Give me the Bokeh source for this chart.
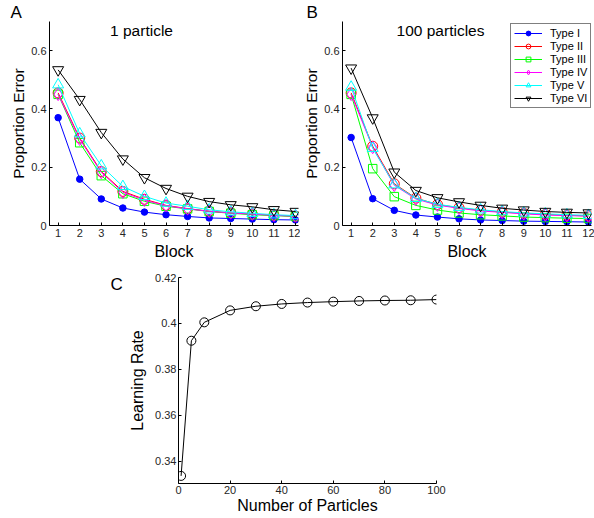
from bokeh.plotting import figure
from bokeh.layouts import column, row
from bokeh.models import (FixedTicker, Label, Legend, LegendItem, Range1d, Title)
from bokeh.embed import file_html
from bokeh.resources import INLINE

FONT = "Liberation Sans"

blocks = list(range(1, 13))
type_names = ["Type I", "Type II", "Type III", "Type IV", "Type V", "Type VI"]

# Panel A: 1 particle
a_type1 = [0.370, 0.159, 0.091, 0.060, 0.046, 0.037, 0.031, 0.026, 0.024, 0.022, 0.020, 0.019]
a_type2 = [0.455, 0.300, 0.185, 0.117, 0.090, 0.069, 0.058, 0.049, 0.043, 0.039, 0.035, 0.032]
a_type3 = [0.450, 0.284, 0.171, 0.109, 0.083, 0.066, 0.057, 0.048, 0.042, 0.037, 0.034, 0.031]
a_type4 = [0.450, 0.296, 0.182, 0.114, 0.087, 0.068, 0.057, 0.049, 0.043, 0.039, 0.035, 0.032]
a_type5 = [0.483, 0.315, 0.205, 0.134, 0.100, 0.077, 0.066, 0.054, 0.047, 0.042, 0.037, 0.034]
a_type6 = [0.534, 0.432, 0.319, 0.228, 0.164, 0.127, 0.100, 0.082, 0.071, 0.064, 0.054, 0.048]

# Panel B: 100 particles
b_type1 = [0.302, 0.092, 0.052, 0.036, 0.029, 0.023, 0.019, 0.017, 0.015, 0.014, 0.013, 0.012]
b_type2 = [0.455, 0.272, 0.143, 0.094, 0.072, 0.061, 0.052, 0.046, 0.042, 0.038, 0.035, 0.033]
b_type3 = [0.450, 0.195, 0.099, 0.069, 0.053, 0.043, 0.037, 0.033, 0.029, 0.027, 0.025, 0.024]
b_type4 = [0.450, 0.268, 0.138, 0.091, 0.070, 0.059, 0.050, 0.045, 0.040, 0.036, 0.034, 0.032]
b_type5 = [0.475, 0.265, 0.140, 0.093, 0.073, 0.062, 0.054, 0.048, 0.043, 0.040, 0.037, 0.035]
b_type6 = [0.540, 0.369, 0.183, 0.120, 0.095, 0.081, 0.069, 0.059, 0.053, 0.048, 0.045, 0.043]

# Panel C: learning rate vs number of particles
n_particles = [1, 5, 10, 20, 30, 40, 50, 60, 70, 80, 90, 100]
learning_rate = [0.3337, 0.3925, 0.4005, 0.4057, 0.4075, 0.4085, 0.4091, 0.4095, 0.4098, 0.4100, 0.4101, 0.4104]

y_ticks_ab = [0, 0.2, 0.4, 0.6]
y_labels_ab = {0: "0", 0.2: "0.2", 0.4: "0.4", 0.6: "0.6"}
y_ticks_c = [0.34, 0.36, 0.38, 0.40, 0.42]
y_labels_c = {0.34: "0.34", 0.36: "0.36", 0.38: "0.38", 0.4: "0.4", 0.42: "0.42"}
x_ticks_c = [0, 20, 40, 60, 80, 100]

styles = [
    dict(marker="circle", color="#0000ff", size=6.5, fill=True),
    dict(marker="circle", color="#ff0000", size=10, fill=False),
    dict(marker="square", color="#00ff00", size=8.5, fill=False),
    dict(marker="diamond", color="#ff00ff", size=12.5, fill=False),
    dict(marker="triangle", color="#00ffff", size=11, fill=False),
    dict(marker="inverted_triangle", color="#000000", size=11, fill=False),
]

TICK_COLOR = "#262626"


def style_axes(p, label_standoff=3, tick_standoff=3):
    for ax in (p.xaxis[0], p.yaxis[0]):
        ax.axis_line_color = "black"
        ax.axis_line_width = 1
        ax.major_tick_in = 3
        ax.major_tick_out = 0
        ax.minor_tick_line_color = None
        ax.major_tick_line_color = "black"
        ax.major_label_text_font = FONT
        ax.major_label_text_font_size = "11px"
        ax.major_label_text_color = TICK_COLOR
        ax.axis_label_text_font = FONT
        ax.axis_label_text_font_style = "normal"
        ax.axis_label_text_color = "black"
        ax.major_label_standoff = tick_standoff
        ax.axis_label_standoff = label_standoff
    p.grid.visible = False
    p.outline_line_color = None
    p.background_fill_color = "white"
    p.border_fill_color = "white"


def panel_letter(text, offset):
    return Title(text=text, align="left", offset=offset, standoff=0,
                 text_font=FONT, text_font_size="17px",
                 text_font_style="normal", text_color="black")


def make_ab(series, title, title_x, letter, letter_off, bl, br, with_legend=False):
    p = figure(output_backend="svg", toolbar_location=None,
               frame_width=249, frame_height=204,
               min_border_left=bl, min_border_right=br,
               min_border_top=20, min_border_bottom=36,
               x_range=Range1d(0.6, 12.14), y_range=Range1d(0, 0.7))
    p.add_layout(panel_letter(letter, letter_off), "above")
    p.xaxis.ticker = FixedTicker(ticks=blocks)
    p.yaxis.ticker = FixedTicker(ticks=y_ticks_ab)
    p.yaxis.major_label_overrides = y_labels_ab
    p.xaxis.axis_label = "Block"
    p.yaxis.axis_label = "Proportion Error"
    style_axes(p)
    p.yaxis.axis_label_standoff = 1
    p.xaxis.axis_label_text_font_size = "16px"
    p.yaxis.axis_label_text_font_size = "15.5px"
    items = []
    for name, ys, st in zip(type_names, series, styles):
        lr = p.line(blocks, ys, line_color=st["color"], line_width=1)
        sr = p.scatter(blocks, ys, marker=st["marker"], size=st["size"],
                       line_color=st["color"], line_width=1,
                       fill_color=st["color"] if st["fill"] else None)
        items.append(LegendItem(label=name, renderers=[lr, sr]))
    p.add_layout(Label(x=title_x, y=195, x_units="screen", y_units="screen",
                       text=title, text_font=FONT, text_font_size="15.5px",
                       text_font_style="normal",
                       text_align="center", text_baseline="alphabetic",
                       text_color="black"))
    if with_legend:
        leg = Legend(items=items, location=(168, 117),
                     label_text_font=FONT, label_text_font_size="11px",
                     label_text_color="black",
                     glyph_width=28, glyph_height=12, label_height=12,
                     label_standoff=8, spacing=1, padding=3, margin=0,
                     border_line_color="black", border_line_width=1,
                     background_fill_color="white", background_fill_alpha=1)
        p.add_layout(leg, "center")
    return p


pA = make_ab([a_type1, a_type2, a_type3, a_type4, a_type5, a_type6],
             "1 particle", 92, "A", -39, 49, 2)
pB = make_ab([b_type1, b_type2, b_type3, b_type4, b_type5, b_type6],
             "100 particles", 98, "B", -36, 39, 6, with_legend=True)

pC = figure(output_backend="svg", toolbar_location=None,
            frame_width=258, frame_height=206,
            min_border_left=51, min_border_right=20,
            min_border_top=15, min_border_bottom=33,
            x_range=Range1d(0, 100), y_range=Range1d(0.3304, 0.42))
pC.xaxis.ticker = FixedTicker(ticks=x_ticks_c)
pC.yaxis.ticker = FixedTicker(ticks=y_ticks_c)
pC.yaxis.major_label_overrides = y_labels_c
pC.xaxis.axis_label = "Number of Particles"
pC.yaxis.axis_label = "Learning Rate"
style_axes(pC, label_standoff=0, tick_standoff=2)
pC.yaxis.axis_label_standoff = 6
pC.xaxis.axis_label_text_font_size = "16px"
pC.yaxis.axis_label_text_font_size = "16px"
pC.line(n_particles, learning_rate, line_color="black", line_width=1)
pC.scatter(n_particles, learning_rate, marker="circle", size=9,
           line_color="black", line_width=1, fill_color=None)

# left strip of row 2 carrying the panel letter "C" as a right-side tick label
c_letter_pos = [199.5]
cleft = figure(output_backend="svg", toolbar_location=None,
               width=126, height=254, min_border_left=0, min_border_right=16,
               min_border_bottom=33, min_border_top=15,
               x_range=Range1d(0, 1), y_range=Range1d(0, 206),
               y_axis_location="right", x_axis_type=None)
cleft.grid.visible = False
cleft.outline_line_color = None
cleft.background_fill_color = "white"
cleft.border_fill_color = "white"
cax = cleft.yaxis[0]
cax.ticker = FixedTicker(ticks=c_letter_pos)
cax.major_label_overrides = {199.5: "C"}
cax.axis_line_color = None
cax.major_tick_line_color = None
cax.minor_tick_line_color = None
cax.major_tick_in = 0
cax.major_tick_out = 0
cax.major_label_standoff = 0
cax.major_label_text_font = FONT
cax.major_label_text_font_size = "17px"
cax.major_label_text_color = "black"

layout = column(row(pA, pB), row(cleft, pC))
with open("out.html", "w") as f:
    f.write(file_html(layout, INLINE))
